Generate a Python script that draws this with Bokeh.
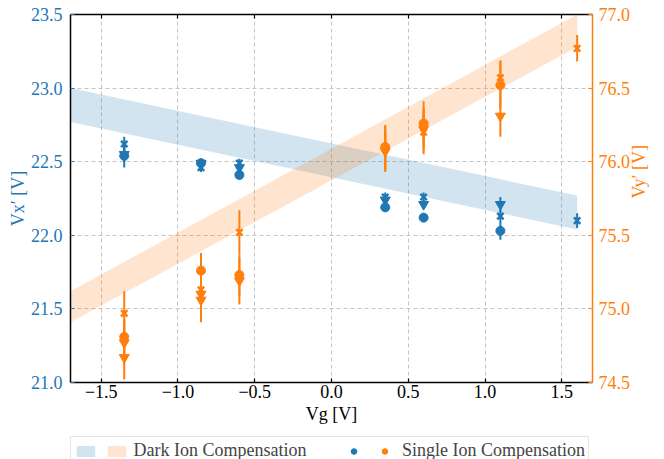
import math
from bokeh.plotting import figure
from bokeh.layouts import column
from bokeh.models import Range1d, LinearAxis, FixedTicker, Legend, LegendItem
from bokeh.embed import file_html
from bokeh.resources import INLINE

BLUE = "#1f77b4"
ORANGE = "#ff7f0e"
FONT = "Liberation Serif"

# ---------------- data ----------------
x_range_vals = [-1.7, 1.7]
vx_range_vals = [21.0, 23.5]
vy_range_vals = [74.5, 77.0]

x_ticks = [-1.5, -1.0, -0.5, 0.0, 0.5, 1.0, 1.5]
x_tick_labels = ["−1.5", "−1.0", "−0.5", "0.0", "0.5", "1.0", "1.5"]
vx_ticks = [21.0, 21.5, 22.0, 22.5, 23.0, 23.5]
vx_tick_labels = ["21.0", "21.5", "22.0", "22.5", "23.0", "23.5"]
vy_ticks = [74.5, 75.0, 75.5, 76.0, 76.5, 77.0]
vy_tick_labels = ["74.5", "75.0", "75.5", "76.0", "76.5", "77.0"]

x_title = "Vg [V]"
vx_title = "Vx′ [V]"
vy_title = "Vy′ [V]"

# Dark ion compensation bands
band_vg = [-1.7, 1.6]
dark_vx_low = [22.77, 22.04]
dark_vx_high = [23.00, 22.27]
dark_vy_low = [74.91, 76.78]
dark_vy_high = [75.12, 77.00]

# Single ion compensation, V_x'
vx_circle_vg = [-1.35, -0.85, -0.6, 0.35, 0.6, 1.1]
vx_circle = [22.54, 22.49, 22.41, 22.19, 22.12, 22.03]
vx_circle_err = [0.08, 0.03, 0.03, 0.03, 0.03, 0.06]
vx_tri_vg = [-1.35, -0.85, -0.6, 0.35, 0.6, 1.1]
vx_tri = [22.55, 22.49, 22.46, 22.24, 22.21, 22.21]
vx_tri_err = [0.05, 0.03, 0.03, 0.03, 0.03, 0.05]
vx_x_vg = [-1.35, -0.85, -0.6, 0.35, 0.6, 1.1, 1.6]
vx_x = [22.62, 22.46, 22.49, 22.26, 22.26, 22.13, 22.10]
vx_x_err = [0.05, 0.03, 0.03, 0.03, 0.03, 0.04, 0.05]

# Single ion compensation, V_y'
vy_circle_vg = [-1.35, -0.85, -0.6, 0.35, 0.6, 1.1]
vy_circle = [74.81, 75.26, 75.23, 76.10, 76.26, 76.52]
vy_circle_err = [0.12, 0.12, 0.14, 0.15, 0.15, 0.16]
vy_tri_vg = [-1.35, -1.35, -0.85, -0.85, -0.6, 0.35, 0.6, 1.1]
vy_tri = [74.77, 74.67, 75.10, 75.06, 75.19, 76.07, 76.22, 76.31]
vy_tri_err = [0.15, 0.15, 0.15, 0.15, 0.16, 0.14, 0.145, 0.14]
vy_x_vg = [-1.35, -0.85, -0.6, 0.35, 0.6, 1.1, 1.6]
vy_x = [74.97, 75.13, 75.52, 76.09, 76.20, 76.57, 76.77]
vy_x_err = [0.15, 0.14, 0.15, 0.15, 0.15, 0.12, 0.09]

legend_dark = "Dark Ion Compensation"
legend_single = "Single Ion Compensation"

# ---------------- main figure ----------------
p = figure(frame_width=522, frame_height=368,
           x_range=Range1d(*x_range_vals), y_range=Range1d(*vx_range_vals),
           output_backend="svg", toolbar_location=None,
           min_border_left=70, min_border_right=72, min_border_top=14, min_border_bottom=54)
p.extra_y_ranges = {"vy": Range1d(*vy_range_vals)}
p.outline_line_color = None

def style_axis(ax, color, line_color, ticks, labels):
    ax.ticker = FixedTicker(ticks=ticks)
    ax.major_label_overrides = {t: l for t, l in zip(ticks, labels)}
    ax.major_label_text_font = FONT
    ax.major_label_text_font_size = "18px"
    ax.major_label_text_color = color
    ax.axis_line_color = line_color
    ax.axis_line_width = 1.5
    ax.major_tick_line_color = color
    ax.major_tick_line_width = 1.2
    ax.major_tick_in = 4
    ax.major_tick_out = 0
    ax.minor_tick_line_color = None
    ax.axis_label_text_font = FONT
    ax.axis_label_text_font_size = "18px"
    ax.axis_label_text_font_style = "normal"
    ax.axis_label_text_color = color
    ax.axis_label_standoff = 0

xa = p.xaxis[0]
style_axis(xa, "black", "black", x_ticks, x_tick_labels)
xa.major_label_standoff = 2
xa.axis_label = x_title
xa.axis_label_standoff = 3

ya = p.yaxis[0]
style_axis(ya, BLUE, "black", vx_ticks, vx_tick_labels)
ya.major_label_standoff = 8
ya.axis_label = vx_title

ra = LinearAxis(y_range_name="vy")
style_axis(ra, ORANGE, ORANGE, vy_ticks, vy_tick_labels)
ra.major_label_standoff = 6
ra.axis_label = vy_title
ra.axis_label_standoff = 6
if "axis_label_orientation" in ra.properties():
    ra.axis_label_orientation = math.pi / 2
p.add_layout(ra, "right")

ta = LinearAxis()
style_axis(ta, "black", "black", x_ticks, x_tick_labels)
ta.major_label_text_color = None
ta.major_label_text_font_size = "1px"
ta.major_label_standoff = 0
p.add_layout(ta, "above")

for g in (p.xgrid[0], p.ygrid[0]):
    g.grid_line_color = "#c4c4c4"
    g.grid_line_dash = "4 3"
    g.grid_line_width = 1
p.xgrid[0].ticker = FixedTicker(ticks=x_ticks)
p.ygrid[0].ticker = FixedTicker(ticks=vx_ticks)

# bands
p.varea(x=band_vg, y1=dark_vx_low, y2=dark_vx_high, fill_color=BLUE, fill_alpha=0.2)
p.varea(x=band_vg, y1=dark_vy_low, y2=dark_vy_high, fill_color=ORANGE, fill_alpha=0.2,
        y_range_name="vy")

def series(xs, ys, errs, marker, color, size, rng=None):
    kw = {} if rng is None else {"y_range_name": rng}
    p.segment(x0=xs, y0=[y - e for y, e in zip(ys, errs)], x1=xs, y1=[y + e for y, e in zip(ys, errs)],
              line_color=color, line_width=2, **kw)
    lw = 2.5 if marker == "x" else 1
    p.scatter(x=xs, y=ys, marker=marker, size=size, fill_color=color, line_color=color,
              line_width=lw, **kw)

series(vx_circle_vg, vx_circle, vx_circle_err, "circle", BLUE, 9)
series(vx_tri_vg, vx_tri, vx_tri_err, "inverted_triangle", BLUE, 10)
series(vx_x_vg, vx_x, vx_x_err, "x", BLUE, 9)
series(vy_circle_vg, vy_circle, vy_circle_err, "circle", ORANGE, 9, "vy")
series(vy_tri_vg, vy_tri, vy_tri_err, "inverted_triangle", ORANGE, 10, "vy")
series(vy_x_vg, vy_x, vy_x_err, "x", ORANGE, 9, "vy")

# ---------------- legend strip ----------------
# The key renderers reuse the real data; their values lie outside this strip's
# ranges, so only their legend swatches show.
leg = figure(frame_width=580, frame_height=23, x_range=Range1d(0, 1), y_range=Range1d(0, 1),
             x_axis_location=None, y_axis_location=None, output_backend="svg",
             toolbar_location=None, min_border_left=70, min_border_right=14,
             min_border_top=0, min_border_bottom=0)
leg.outline_line_color = None
leg.grid.visible = False

key_band_b = leg.varea(x=band_vg, y1=dark_vx_low, y2=dark_vx_high, fill_color=BLUE, fill_alpha=0.2)
key_band_o = leg.varea(x=band_vg, y1=dark_vy_low, y2=dark_vy_high, fill_color=ORANGE, fill_alpha=0.2)
key_dot_b = leg.scatter(x=vx_circle_vg, y=vx_circle, marker="circle", size=5,
                        fill_color=BLUE, line_color=BLUE)
key_dot_o = leg.scatter(x=vy_circle_vg, y=vy_circle, marker="circle", size=5,
                        fill_color=ORANGE, line_color=ORANGE)

legend = Legend(items=[
    LegendItem(label="\u200a", renderers=[key_band_b]),
    LegendItem(label=legend_dark + "\u00a0" * 8, renderers=[key_band_o]),
    LegendItem(label="\u200a", renderers=[key_dot_b]),
    LegendItem(label=legend_single, renderers=[key_dot_o]),
], orientation="horizontal", location="top_left", margin=0, padding=3, spacing=0,
    glyph_width=23, glyph_height=14, label_standoff=6, label_width=0, label_height=18,
    label_text_font=FONT, label_text_font_size="18px",
    border_line_color="#cccccc", border_line_width=1, background_fill_alpha=0.85)
leg.add_layout(legend, "center")

open("out.html", "w").write(file_html(column(p, leg, spacing=0), INLINE))
